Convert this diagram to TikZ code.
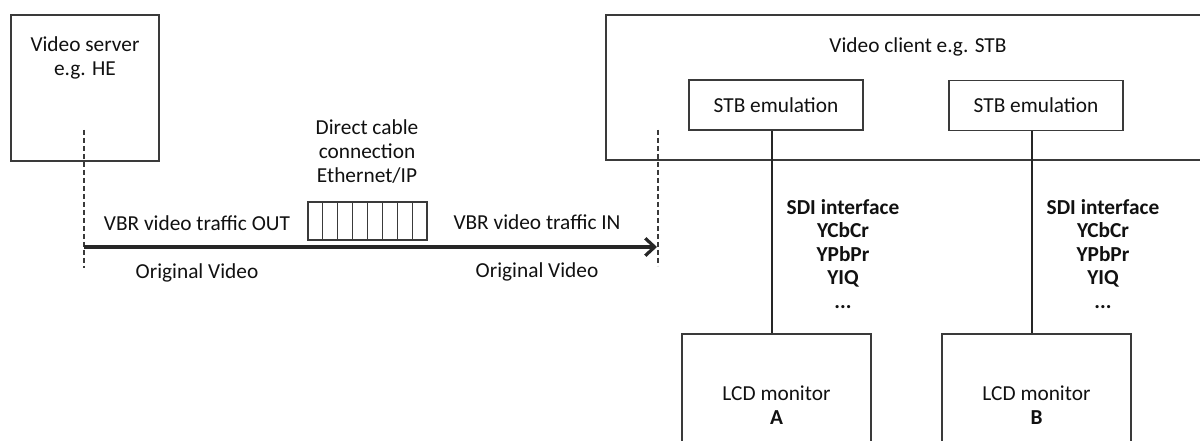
\documentclass[tikz,border=0pt]{standalone}
\usepackage{fontspec}
\setmainfont{Carlito}
\usetikzlibrary{arrows.meta,calc}
\definecolor{linegray}{HTML}{3A3A3A}
\definecolor{txt}{HTML}{111111}
\tikzset{
  box/.style={draw=linegray, line width=1.1pt, fill=none, inner sep=0pt, text=txt},
  lbl/.style={inner sep=0pt, align=center, text=txt, font=\fontsize{16}{18}\selectfont},
  conn/.style={draw=black!85, line width=1.5pt},
  guide/.style={draw=linegray, line width=0.8pt, dash pattern=on 3.5pt off 2.5pt},
  flow/.style={draw=black!85, line width=2.4pt, -{Straight Barb[length=7pt,width=13pt,line width=2.4pt]}}
}
\begin{document}
\begin{tikzpicture}[x=0.75pt,y=-0.75pt, font=\fontsize{16}{18}\selectfont]
\useasboundingbox (0,0) rectangle (1200,441);
\clip (0,0) rectangle (1200,441);
\fill[white] (0,0) rectangle (1200,441);

% Video server
\node[box, minimum width=111pt, minimum height=109.5pt] (srv) at (85,88) {};
\node[lbl] (srvlbl) at (85,58) {Video server\\e.g. HE};

% Video client
\node[box, minimum width=468pt, minimum height=108.75pt] (client) at (918,87.5) {};
\node[lbl] (clientlbl) at (918,47) {Video client e.g. STB};

% STB emulation boxes
\node[box, lbl, draw=linegray, line width=1.1pt, minimum width=130.5pt, minimum height=37.5pt] (stb1) at (776,105) {STB emulation};
\node[box, lbl, draw=linegray, line width=1.1pt, minimum width=130.5pt, minimum height=37.5pt] (stb2) at (1036,105.5) {STB emulation};

% LCD monitors
\node[box, lbl, draw=linegray, line width=1.1pt, minimum width=141.75pt, minimum height=106.5pt] (lcd1) at (776.5,405) {LCD monitor\\\textbf{A}};
\node[box, lbl, draw=linegray, line width=1.1pt, minimum width=141.75pt, minimum height=106.5pt] (lcd2) at (1036.5,405) {LCD monitor\\\textbf{B}};

% SDI connections
\draw[conn] ([xshift=-3pt]stb1.south) -- ([xshift=-3pt]stb1.south |- lcd1.north);
\draw[conn] ([xshift=-3pt]stb2.south) -- ([xshift=-3pt]stb2.south |- lcd2.north);
\node[lbl, font=\bfseries\fontsize{16}{17.6}\selectfont] (sdi1) at (843,254) {SDI interface\\YCbCr\\YPbPr\\YIQ\\...};
\node[lbl, font=\bfseries\fontsize{16}{17.6}\selectfont] (sdi2) at (1103,254) {SDI interface\\YCbCr\\YPbPr\\YIQ\\...};

% Guides and traffic arrow
\coordinate (gl1) at (84,130);
\coordinate (gl2) at (84,268);
\coordinate (gr1) at (658,130);
\coordinate (gr2) at (658,266);
\draw[guide] (gl1) -- (gl2);
\draw[guide] (gr1) -- (gr2);
\coordinate (src) at (84,247);
\coordinate (dst) at (657,247);
\draw[flow] (src) -- (dst);

% Packet train
\node[box, minimum width=89.25pt, minimum height=28.5pt] (pkt) at (367.5,221) {};
\foreach \i in {1,...,7} {
  \draw[linegray, line width=1.1pt] ($(pkt.north west)!\i/8!(pkt.north east)$) -- ($(pkt.south west)!\i/8!(pkt.south east)$);
}
\node[lbl] (cable) at (367,152) {Direct cable\\connection\\Ethernet/IP};

% Traffic labels
\node[lbl] (out) at (197,223) {VBR video traffic OUT};
\node[lbl] (in) at (537,222) {VBR video traffic IN};
\node[lbl] (orig1) at (197,273) {Original Video};
\node[lbl] (orig2) at (537,272) {Original Video};
\end{tikzpicture}
\end{document}
